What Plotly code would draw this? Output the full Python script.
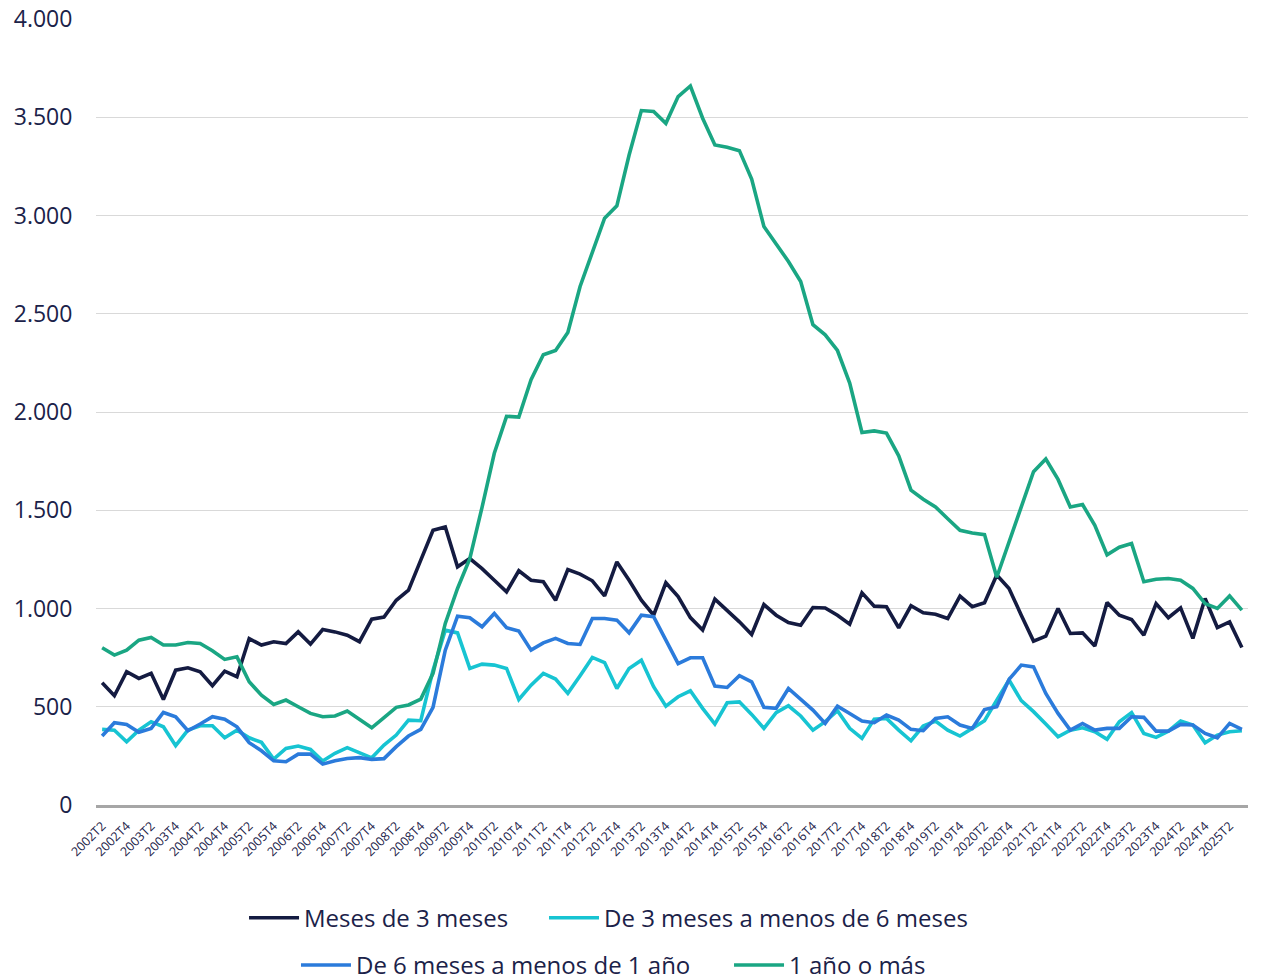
import plotly.graph_objects as go

# Quarterly periods, 2002T2 .. 2025T3
quarters = [f"{y}T{q}" for y in range(2002, 2026) for q in (1, 2, 3, 4)]
quarters = quarters[quarters.index("2002T2"):quarters.index("2025T3") + 1]

menos_3_meses = [
    622, 556, 678, 644, 670, 537, 686, 698, 678, 607, 681, 653, 847, 814, 831, 822,
    881, 819, 893, 881, 864, 831, 946, 956, 1042, 1093, 1246, 1398, 1415, 1212, 1254, 1203,
    1144, 1085, 1192, 1144, 1136, 1042, 1198, 1175, 1141, 1064, 1237, 1144, 1042, 966, 1131, 1061,
    954, 890, 1048, 992, 932, 868, 1020, 966, 929, 915, 1005, 1003, 966, 920, 1080, 1012,
    1009, 902, 1014, 978, 971, 949, 1063, 1009, 1029, 1170, 1102, 966, 834, 859, 1000, 873,
    876, 809, 1031, 966, 944, 864, 1025, 953, 1003, 848, 1051, 903, 932, 802,
]

de_3_a_6_meses = [
    385, 381, 322, 381, 424, 398, 302, 381, 403, 403, 342, 381, 342, 319, 234, 288,
    300, 283, 224, 263, 292, 265, 240, 305, 356, 432, 429, 686, 890, 876, 695, 717,
    712, 695, 537, 610, 670, 641, 568, 658, 751, 725, 593, 695, 737, 602, 503, 551,
    581, 492, 412, 520, 525, 461, 390, 470, 505, 453, 381, 424, 480, 390, 339, 437,
    441, 381, 327, 402, 427, 381, 351, 390, 429, 534, 636, 531, 475, 412, 347, 381,
    393, 373, 334, 424, 470, 364, 344, 376, 427, 407, 317, 356, 373, 378,
]

de_6_meses_a_1_anio = [
    351, 419, 410, 370, 390, 471, 449, 378, 412, 449, 437, 398, 317, 276, 225, 220,
    259, 259, 208, 225, 237, 241, 232, 236, 297, 351, 385, 497, 788, 961, 953, 907,
    975, 902, 885, 788, 825, 848, 822, 817, 949, 949, 941, 876, 966, 958, 839, 720,
    749, 749, 605, 598, 658, 627, 497, 492, 593, 539, 483, 415, 503, 466, 427, 419,
    458, 432, 385, 378, 441, 449, 407, 390, 486, 500, 639, 712, 703, 568, 466, 381,
    415, 381, 390, 390, 449, 446, 376, 376, 410, 407, 364, 342, 415, 385,
]

un_anio_o_mas = [
    800, 763, 788, 839, 853, 814, 814, 827, 822, 785, 741, 754, 627, 559, 512, 534,
    500, 466, 449, 453, 478, 436, 393, 445, 497, 509, 539, 670, 924, 1102, 1253, 1515,
    1790, 1978, 1974, 2164, 2291, 2313, 2405, 2639, 2817, 2986, 3049, 3308, 3534, 3529, 3469, 3605,
    3659, 3495, 3359, 3347, 3330, 3185, 2944, 2851, 2766, 2664, 2444, 2393, 2313, 2147, 1896, 1904,
    1893, 1777, 1602, 1556, 1517, 1457, 1398, 1384, 1376, 1159, 1338, 1517, 1696, 1761, 1657, 1517,
    1529, 1423, 1273, 1312, 1331, 1136, 1149, 1153, 1144, 1102, 1025, 1000, 1064, 992,
]

y_ticks = [0, 500, 1000, 1500, 2000, 2500, 3000, 3500, 4000]
x_tick_labels = quarters[::2]

# name, values, colour, legend id, legend x (paper), legend y (paper)
series = [
    ("Meses de 3 meses", menos_3_meses, "#141b41", "legend", 0.1285, -0.144),
    ("De 3 meses a menos de 6 meses", de_3_a_6_meses, "#17c4d2", "legend2", 0.3889, -0.144),
    ("De 6 meses a menos de 1 año", de_6_meses_a_1_anio, "#2b7bdb", "legend3", 0.1736, -0.204),
    ("1 año o más", un_anio_o_mas, "#1aa683", "legend4", 0.5495, -0.204),
]

TEXT = "#1b2249"
FONT = "Open Sans"

fig = go.Figure()
legends = {}
for name, values, color, leg, lx, ly in series:
    fig.add_trace(go.Scatter(
        x=quarters, y=values, name=name, mode="lines",
        line=dict(color=color, width=3.6, shape="linear"),
        legend=leg,
    ))
    legends[leg] = dict(
        orientation="h", xanchor="left", x=lx, yanchor="middle", y=ly,
        font=dict(family=FONT, size=24, color=TEXT),
        bgcolor="rgba(0,0,0,0)", itemwidth=50, borderwidth=0,
    )

fig.update_layout(
    width=1267, height=976,
    paper_bgcolor="white", plot_bgcolor="white",
    margin=dict(l=96, r=19, t=19, b=171, autoexpand=False),
    separators=",.",
    font=dict(family=FONT, color=TEXT),
    showlegend=True,
    xaxis=dict(
        type="category",
        range=[-0.5, len(quarters) - 0.5],
        tickmode="array", tickvals=x_tick_labels, ticktext=x_tick_labels,
        tickangle=-45,
        tickfont=dict(family=FONT, size=12.5, color=TEXT),
        ticks="outside", ticklen=6, tickcolor="rgba(0,0,0,0)",
        showgrid=False, showline=True, linecolor="#a6a6a6", linewidth=2.5,
        zeroline=False,
    ),
    yaxis=dict(
        range=[0, 4000],
        tickmode="array", tickvals=y_ticks,
        tickformat=",d",
        tickfont=dict(family=FONT, size=23, color=TEXT),
        ticks="outside", ticklen=18, tickcolor="rgba(0,0,0,0)",
        showgrid=True, gridcolor="#d9d9d9", gridwidth=1.3,
        zeroline=False, showline=False,
    ),
    **legends,
)

fig.write_html("out.html")
